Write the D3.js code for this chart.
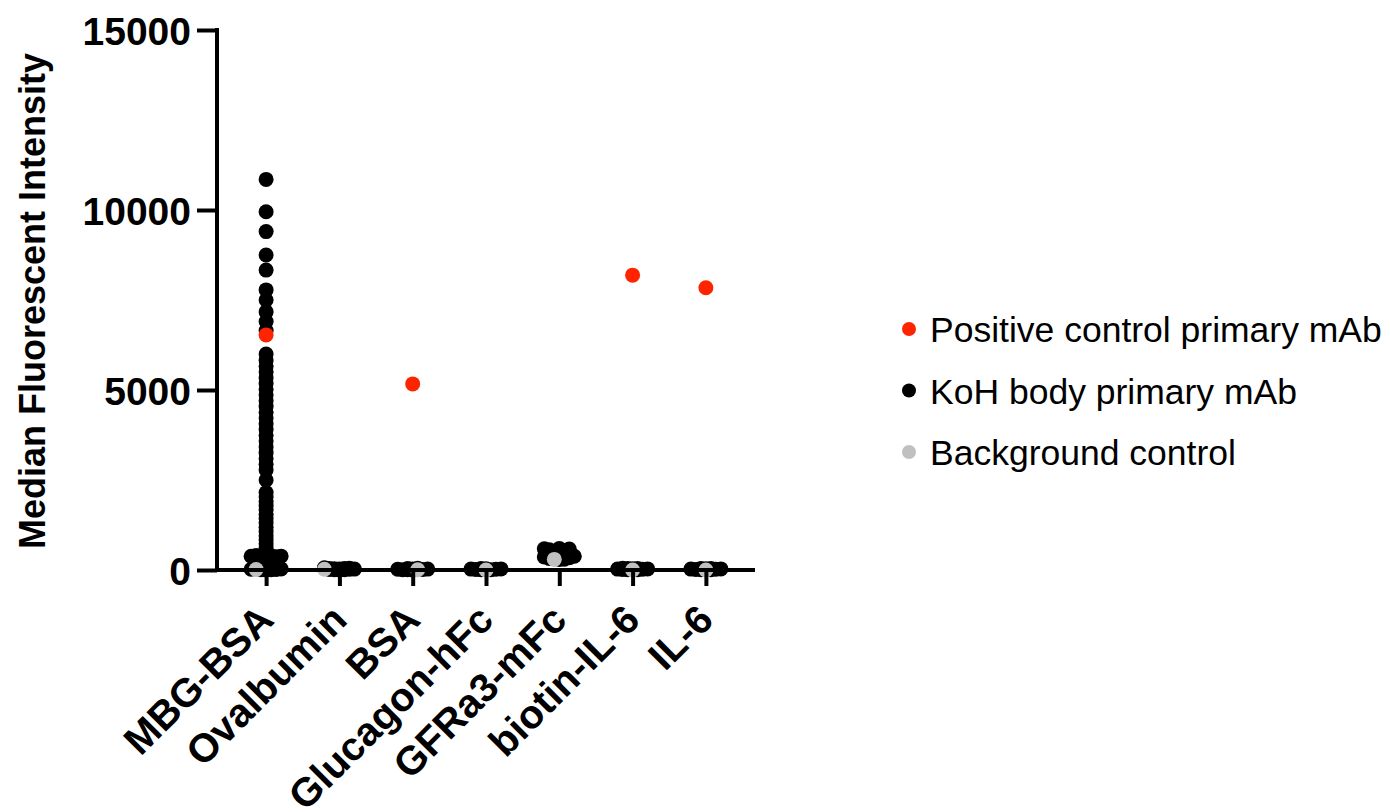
<!DOCTYPE html>
<html>
<head>
<meta charset="utf-8">
<script src="https://cdn.jsdelivr.net/npm/d3@7"></script>
<style>
  html, body { margin: 0; padding: 0; background: #fff; }
  svg { display: block; font-family: "Liberation Sans", Arial, Helvetica, sans-serif; }
</style>
</head>
<body>
<svg id="chart" width="1390" height="812"></svg>
<script>
// Antigen panel on the x axis
const categories = ["MBG-BSA", "Ovalbumin", "BSA", "Glucagon-hFc", "GFRa3-mFc", "biotin-IL-6", "IL-6"];

// KoH body primary mAb: median fluorescent intensity per well, one array per antigen
const kohMBGBSA = [10850, 9950, 9400, 8750, 8330, 7780, 7500, 7170, 6900, 6650,
  6000, 5820, 5660, 5500, 5340, 5180, 5020, 4860, 4700, 4540, 4380, 4220, 4060, 3900,
  3740, 3580, 3420, 3260, 3100, 2940, 2780, 2500, 2150, 2030, 1910, 1790, 1670, 1550,
  1430, 1310, 1190, 1070, 950, 840, 730, 620, 510, 400, 395, 390, 385, 380, 370, 360,
  340, 320, 300, 250, 200, 150, 100, 60, 40, 30, 20, 15, 10, 5, 0];
const kohOvalbumin = [0, 5, 10, 15, 20, 25, 30, 35, 40, 45, 50, 60];
const kohBSA = [0, 5, 10, 15, 20, 25, 30, 40, 50];
const kohGlucagon = [5, 10, 15, 20, 25, 30, 35, 40];
const kohGFRa3 = [290, 300, 320, 340, 360, 380, 400, 420, 440, 460, 480, 500, 520, 540, 560, 580, 590, 600];
const kohBiotinIL6 = [5, 10, 15, 20, 25, 30, 35, 40, 45, 50];
const kohIL6 = [5, 10, 15, 20, 25, 30, 35, 40, 45];
const kohValues = [kohMBGBSA, kohOvalbumin, kohBSA, kohGlucagon, kohGFRa3, kohBiotinIL6, kohIL6];

// Positive control primary mAb (null where not run)
const positiveControl = [6530, null, 5170, null, null, 8190, 7840];

// Background control (secondary only)
const backgroundControl = [12, 22, 7, 0, 295, 0, 0];

const yTicks = [0, 5000, 10000, 15000];

const seriesNames = ["Positive control primary mAb", "KoH body primary mAb", "Background control"];
const seriesColors = ["#ff2400", "#000000", "#c0c0c0"];

const svg = d3.select("#chart");
const R = 7.5;

const y = d3.scaleLinear().domain([0, 15000]).range([570, 30]);
const x = d3.scalePoint().domain(categories).range([217, 755]).padding(0.67);

// Column scatter: points sorted by value, nudged sideways when they crowd
function swarm(points) {
  const minDist = 3.5, step = 5, maxSteps = 3;
  const offsets = [0];
  for (let k = 1; k <= maxSteps; k++) offsets.push(-k * step, k * step);
  const placed = [];
  points.slice().sort((a, b) => a.v - b.v || b.order - a.order).forEach(p => {
    const py = y(p.v);
    let best = null, bestScore = -1;
    for (const o of offsets) {
      let md = Infinity;
      for (const q of placed) {
        const d = Math.hypot(o - q.dx, py - q.py);
        if (d < md) md = d;
      }
      if (md >= minDist) { best = o; bestScore = Infinity; break; }
      if (md > bestScore) { bestScore = md; best = o; }
    }
    placed.push({ ...p, dx: best, py });
  });
  return placed;
}

const blackPts = [], grayPts = [];
categories.forEach((c, i) => {
  const pts = kohValues[i].map(v => ({ v, order: 0, cat: c }));
  pts.push({ v: backgroundControl[i], order: 1, cat: c });
  swarm(pts).forEach(p => (p.order === 0 ? blackPts : grayPts).push(p));
});
const redPts = categories.map((c, i) => ({ cat: c, v: positiveControl[i] })).filter(d => d.v != null);

// Points
svg.append("g").selectAll("circle").data(blackPts).join("circle")
  .attr("cx", d => x(d.cat) + d.dx).attr("cy", d => y(d.v)).attr("r", R)
  .attr("fill", seriesColors[1]);
svg.append("g").selectAll("circle").data(grayPts).join("circle")
  .attr("cx", d => x(d.cat) + d.dx).attr("cy", d => y(d.v)).attr("r", R)
  .attr("fill", seriesColors[2]);
svg.append("g").selectAll("circle").data(redPts).join("circle")
  .attr("cx", d => x(d.cat)).attr("cy", d => y(d.v)).attr("r", R)
  .attr("fill", seriesColors[0]);

// Y axis
const yAxis = svg.append("g").attr("transform", "translate(217,0)")
  .call(d3.axisLeft(y).tickValues(yTicks).tickSize(20).tickPadding(6).tickFormat(d3.format("d")));
yAxis.select(".domain").attr("stroke-width", 4).attr("d", "M0,28V572");
yAxis.selectAll(".tick line").attr("stroke-width", 4);
yAxis.selectAll(".tick text").attr("font-size", 39).attr("font-weight", "bold")
  .attr("fill", "#000").attr("dy", "0.36em").attr("font-family", "'Liberation Sans', Arial, sans-serif");

// X axis
const xAxis = svg.append("g").attr("transform", "translate(0,570)")
  .call(d3.axisBottom(x).tickSize(16).tickFormat(""));
xAxis.select(".domain").attr("stroke-width", 4).attr("d", "M215,0H755");
xAxis.selectAll(".tick line").attr("stroke-width", 4);
xAxis.selectAll(".tick").append("text")
  .attr("transform", "translate(9,52) rotate(-45)")
  .attr("text-anchor", "end")
  .attr("font-size", 40).attr("font-weight", "bold").attr("fill", "#000")
  .attr("font-family", "'Liberation Sans', Arial, sans-serif")
  .text(d => d);

// Y axis title
svg.append("text")
  .attr("transform", "translate(45,301) rotate(-90)")
  .attr("text-anchor", "middle")
  .attr("font-size", 36).attr("font-weight", "bold")
  .text("Median Fluorescent Intensity");

// Legend
const legend = svg.append("g").attr("transform", "translate(909,329)");
seriesNames.forEach((name, i) => {
  const g = legend.append("g").attr("transform", `translate(0,${i * 61.5})`);
  g.append("circle").attr("r", 7).attr("fill", seriesColors[i]);
  g.append("text").attr("x", 21).attr("y", 13).attr("font-size", 35.5).attr("fill", "#000").text(name);
});
</script>
</body>
</html>
